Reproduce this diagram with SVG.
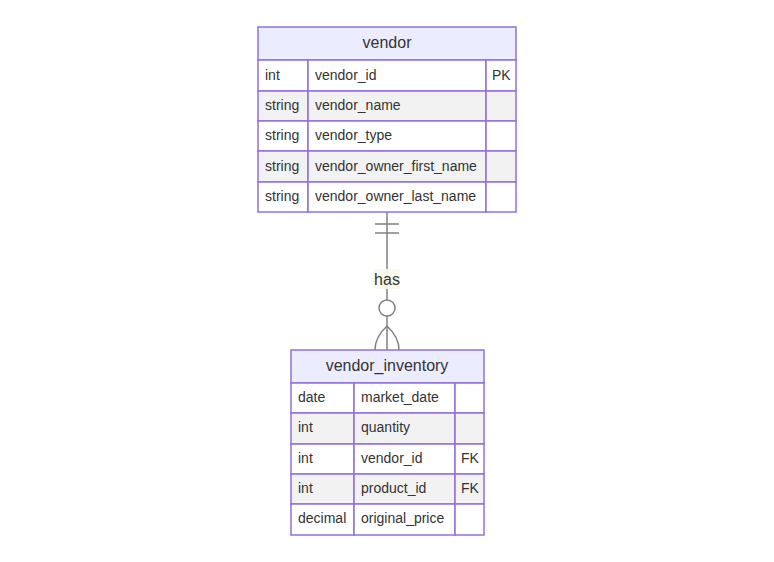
<svg xmlns="http://www.w3.org/2000/svg" width="774" height="562" viewBox="0 0 774 562">
<style>
text{font-family:"Liberation Sans",Arial,sans-serif;fill:#333;}
.hdr{fill:#ECECFF;stroke:#9370DB;stroke-width:1.5;}
.odd{fill:#ffffff;stroke:#9370DB;stroke-width:1.5;}
.even{fill:#f2f2f2;stroke:#9370DB;stroke-width:1.5;}
.title{font-size:16px;text-anchor:middle;}
.attr{font-size:14px;}
.conn{fill:none;stroke:#808080;stroke-width:1.5;}
</style>
<rect width="774" height="562" fill="#ffffff"/>
<g id="connectors">
<line class="conn" x1="387" y1="212" x2="387" y2="350"/>
<line class="conn" x1="375" y1="224" x2="399" y2="224"/>
<line class="conn" x1="375" y1="233" x2="399" y2="233"/>
<circle class="conn" cx="387" cy="308" r="8" fill="#ffffff" style="fill:#ffffff"/>
<path class="conn" d="M375,350 Q375,337 387,326 Q399,337 399,350"/>
<rect x="374" y="269" width="26" height="20" fill="#f8faeb" fill-opacity="0.9"/>
<text x="387" y="285" style="font-size:16px;text-anchor:middle">has</text>
</g>
<g id="vendor">
<rect class="hdr" x="258" y="27" width="258" height="33"/>
<text class="title" x="387" y="48">vendor</text>
<rect class="odd" x="258" y="60" width="50" height="31"/><rect class="odd" x="308" y="60" width="178" height="31"/><rect class="odd" x="486" y="60" width="30" height="31"/>
<rect class="even" x="258" y="91" width="50" height="30"/><rect class="even" x="308" y="91" width="178" height="30"/><rect class="even" x="486" y="91" width="30" height="30"/>
<rect class="odd" x="258" y="121" width="50" height="30"/><rect class="odd" x="308" y="121" width="178" height="30"/><rect class="odd" x="486" y="121" width="30" height="30"/>
<rect class="even" x="258" y="151" width="50" height="31"/><rect class="even" x="308" y="151" width="178" height="31"/><rect class="even" x="486" y="151" width="30" height="31"/>
<rect class="odd" x="258" y="182" width="50" height="30"/><rect class="odd" x="308" y="182" width="178" height="30"/><rect class="odd" x="486" y="182" width="30" height="30"/>
<text class="attr" x="265" y="80">int</text><text class="attr" x="315" y="80">vendor_id</text><text class="attr" x="492" y="80">PK</text>
<text class="attr" x="265" y="110">string</text><text class="attr" x="315" y="110">vendor_name</text>
<text class="attr" x="265" y="140">string</text><text class="attr" x="315" y="140">vendor_type</text>
<text class="attr" x="265" y="171">string</text><text class="attr" x="315" y="171">vendor_owner_first_name</text>
<text class="attr" x="265" y="201">string</text><text class="attr" x="315" y="201">vendor_owner_last_name</text>
</g>
<g id="vendor_inventory">
<rect class="hdr" x="291" y="350" width="193" height="33"/>
<text class="title" x="387" y="371">vendor_inventory</text>
<rect class="odd" x="291" y="383" width="63" height="30"/><rect class="odd" x="354" y="383" width="101" height="30"/><rect class="odd" x="455" y="383" width="29" height="30"/>
<rect class="even" x="291" y="413" width="63" height="31"/><rect class="even" x="354" y="413" width="101" height="31"/><rect class="even" x="455" y="413" width="29" height="31"/>
<rect class="odd" x="291" y="444" width="63" height="30"/><rect class="odd" x="354" y="444" width="101" height="30"/><rect class="odd" x="455" y="444" width="29" height="30"/>
<rect class="even" x="291" y="474" width="63" height="30"/><rect class="even" x="354" y="474" width="101" height="30"/><rect class="even" x="455" y="474" width="29" height="30"/>
<rect class="odd" x="291" y="504" width="63" height="31"/><rect class="odd" x="354" y="504" width="101" height="31"/><rect class="odd" x="455" y="504" width="29" height="31"/>
<text class="attr" x="298" y="402">date</text><text class="attr" x="361" y="402">market_date</text>
<text class="attr" x="298" y="432">int</text><text class="attr" x="361" y="432">quantity</text>
<text class="attr" x="298" y="463">int</text><text class="attr" x="361" y="463">vendor_id</text><text class="attr" x="461" y="463">FK</text>
<text class="attr" x="298" y="493">int</text><text class="attr" x="361" y="493">product_id</text><text class="attr" x="461" y="493">FK</text>
<text class="attr" x="298" y="523">decimal</text><text class="attr" x="361" y="523">original_price</text>
</g>
</svg>
